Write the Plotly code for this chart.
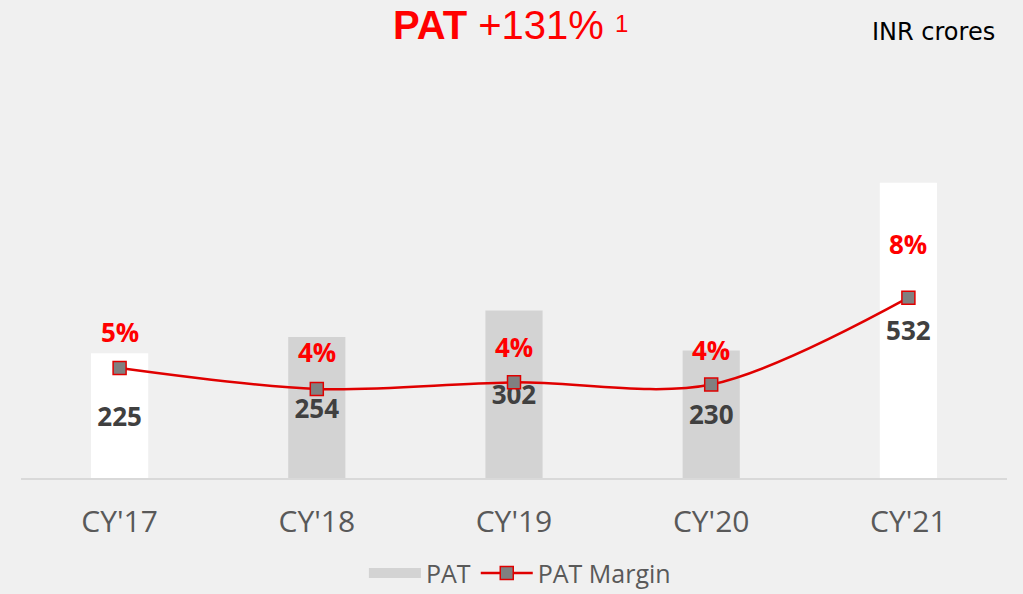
import plotly.graph_objects as go

categories = ["CY'17", "CY'18", "CY'19", "CY'20", "CY'21"]
pat_values = [225, 254, 302, 230, 532]
margin_values = [5.0, 4.05, 4.35, 4.25, 8.2]
margin_labels = ["5%", "4%", "4%", "4%", "8%"]
bar_colors = ["#ffffff", "#d3d3d3", "#d3d3d3", "#d3d3d3", "#ffffff"]
label_shift = [36, 37, 35, 35, 54]

fig = go.Figure()
fig.add_trace(go.Bar(
    x=categories, y=pat_values, name="PAT",
    marker=dict(color=bar_colors, line=dict(width=0)),
    width=0.29,
    text=[str(v) for v in pat_values],
    textposition="inside", insidetextanchor="middle",
    textfont=dict(family="Open Sans", size=26, color="#404040", weight="bold"),
    constraintext="none", cliponaxis=False,
    showlegend=False,
))
# legend entry for the bars: a wide grey swatch
fig.add_trace(go.Scatter(x=[None], y=[None], name="PAT", mode="lines",
                         line=dict(color="#d3d3d3", width=16)))
fig.add_trace(go.Scatter(
    x=categories, y=margin_values, name="PAT Margin", yaxis="y2",
    mode="lines+markers",
    line=dict(color="#e00000", width=2.5, shape="spline", smoothing=0.9),
    marker=dict(symbol="square", size=13, color="#808080", line=dict(color="#e00000", width=1.5)),
))

annotations = [
    dict(text="<b>PAT</b> +131%", xref="paper", yref="paper", x=0.5, y=1,
         xanchor="center", yanchor="middle", yshift=(134 - 25), xshift=-16, showarrow=False,
         font=dict(family="Liberation Sans", size=40, color="#ff0000")),
    dict(text="1", xref="paper", yref="paper", x=0.5, y=1,
         xanchor="center", yanchor="middle", yshift=(134 - 23), xshift=107, showarrow=False,
         font=dict(family="Liberation Sans", size=24, color="#ff0000")),
    dict(text="INR crores", xref="paper", yref="paper", x=1, y=1, xanchor="right", yanchor="middle",
         yshift=(134 - 32), xshift=-10, showarrow=False,
         font=dict(family="DejaVu Sans", size=24, color="#000000")),
]
for c, v, t, s in zip(categories, margin_values, margin_labels, label_shift):
    annotations.append(dict(x=c, y=v, xref="x", yref="y2", text="<b>%s</b>" % t, showarrow=False,
                            yshift=s, font=dict(family="Open Sans", size=26, color="#ff0000")))

fig.update_layout(
    width=1023, height=594,
    paper_bgcolor="#f0f0f0", plot_bgcolor="#f0f0f0",
    margin=dict(l=21, r=16, t=134, b=116, autoexpand=False),
    barmode="overlay",
    xaxis=dict(showgrid=False, showline=True, linecolor="#d9d9d9", linewidth=2,
               tickfont=dict(family="Open Sans", size=30, color="#595959"),
               ticks="", ticklabelstandoff=16),
    yaxis=dict(range=[0, 620], visible=False, showgrid=False),
    yaxis2=dict(range=[0, 15.64], overlaying="y", visible=False, showgrid=False),
    legend=dict(orientation="h", xanchor="center", x=0.506, yref="container", y=0.035, yanchor="middle",
                font=dict(family="Open Sans", size=25, color="#595959"), bgcolor="rgba(0,0,0,0)",
                traceorder="normal", itemwidth=52),
    annotations=annotations,
)

fig.write_html("out.html")
